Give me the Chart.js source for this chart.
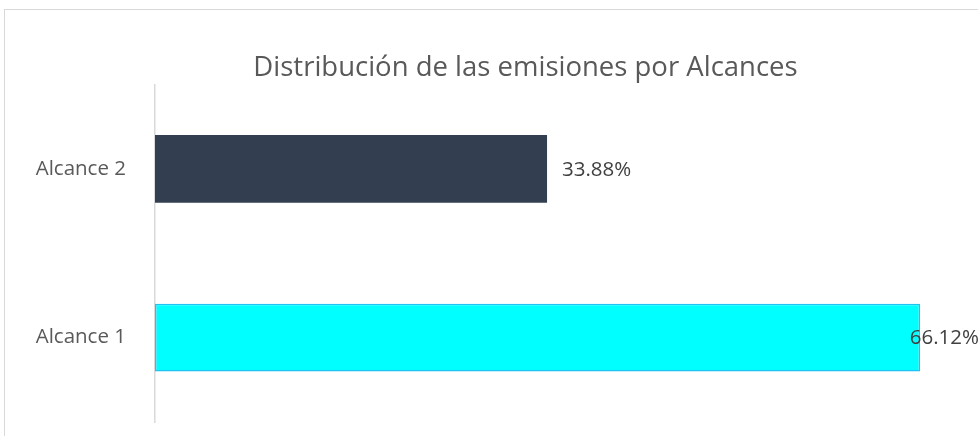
<!DOCTYPE html>
<html>
<head>
<meta charset="utf-8">
<script src="https://cdn.jsdelivr.net/npm/chart.js@4.4.1/dist/chart.umd.min.js"></script>
<style>
  html, body { margin: 0; padding: 0; background: #ffffff; overflow: hidden; width: 978px; height: 436px; }
  #box { position: absolute; left: 4px; top: 9px; width: 1041px; height: 440px; border: 1px solid #d9d9d9; background: #fff; }
  #c { display: block; }
</style>
</head>
<body>
<div id="box"><canvas id="c" width="1041" height="440"></canvas></div>
<script>
const titleText = 'Distribución de las emisiones por Alcances';
const categories = ['Alcance 2', 'Alcance 1'];
const values = [33.88, 66.12];
const valueLabels = ['33.88%', '66.12%'];
const barColors = ['#333F50', '#00FFFF'];
const barBorders = ['#333F50', '#1EC3F3'];
const axisMax = 77;

const FONT = "'Open Sans', 'Noto Sans', sans-serif";
const VISIBLE_RIGHT = 973;

const valueLabelPlugin = {
  id: 'valueLabels',
  afterDatasetsDraw(chart) {
    const ctx = chart.ctx;
    const meta = chart.getDatasetMeta(0);
    ctx.save();
    ctx.font = '20.5px ' + FONT;
    ctx.fillStyle = '#404040';
    ctx.textBaseline = 'middle';
    ctx.textAlign = 'left';
    meta.data.forEach((bar, i) => {
      const txt = valueLabels[i];
      const w = ctx.measureText(txt).width;
      const x = Math.min(bar.x + 15, VISIBLE_RIGHT + 1 - w);
      ctx.fillText(txt, x, bar.y + 1);
    });
    ctx.restore();
  }
};

new Chart(document.getElementById('c'), {
  type: 'bar',
  data: {
    labels: categories,
    datasets: [{
      data: values,
      backgroundColor: barColors,
      borderColor: barBorders,
      borderWidth: [0, 1.5],
      borderSkipped: false,
      barPercentage: 0.8,
      categoryPercentage: 0.503
    }]
  },
  options: {
    indexAxis: 'y',
    responsive: false,
    animation: false,
    devicePixelRatio: 1,
    layout: { padding: { left: 0, right: 0, top: 0, bottom: 28 } },
    plugins: {
      legend: { display: false },
      tooltip: { enabled: false },
      title: {
        display: true,
        text: titleText,
        color: '#595959',
        font: { family: FONT, size: 27.5, weight: 'normal' },
        padding: { top: 41.5, bottom: 0 }
      }
    },
    scales: {
      x: {
        display: false,
        min: 0,
        max: axisMax
      },
      y: {
        grid: { display: false, drawTicks: false },
        border: { display: true, color: '#d9d9d9', width: 1.5 },
        ticks: {
          color: '#595959',
          font: { family: FONT, size: 20.5 },
          padding: 29
        },
        afterFit(scale) {
          scale.width = 150;
          scale.paddingTop = 0;
          scale.paddingBottom = 0;
        }
      }
    }
  },
  plugins: [valueLabelPlugin]
});
</script>
</body>
</html>
